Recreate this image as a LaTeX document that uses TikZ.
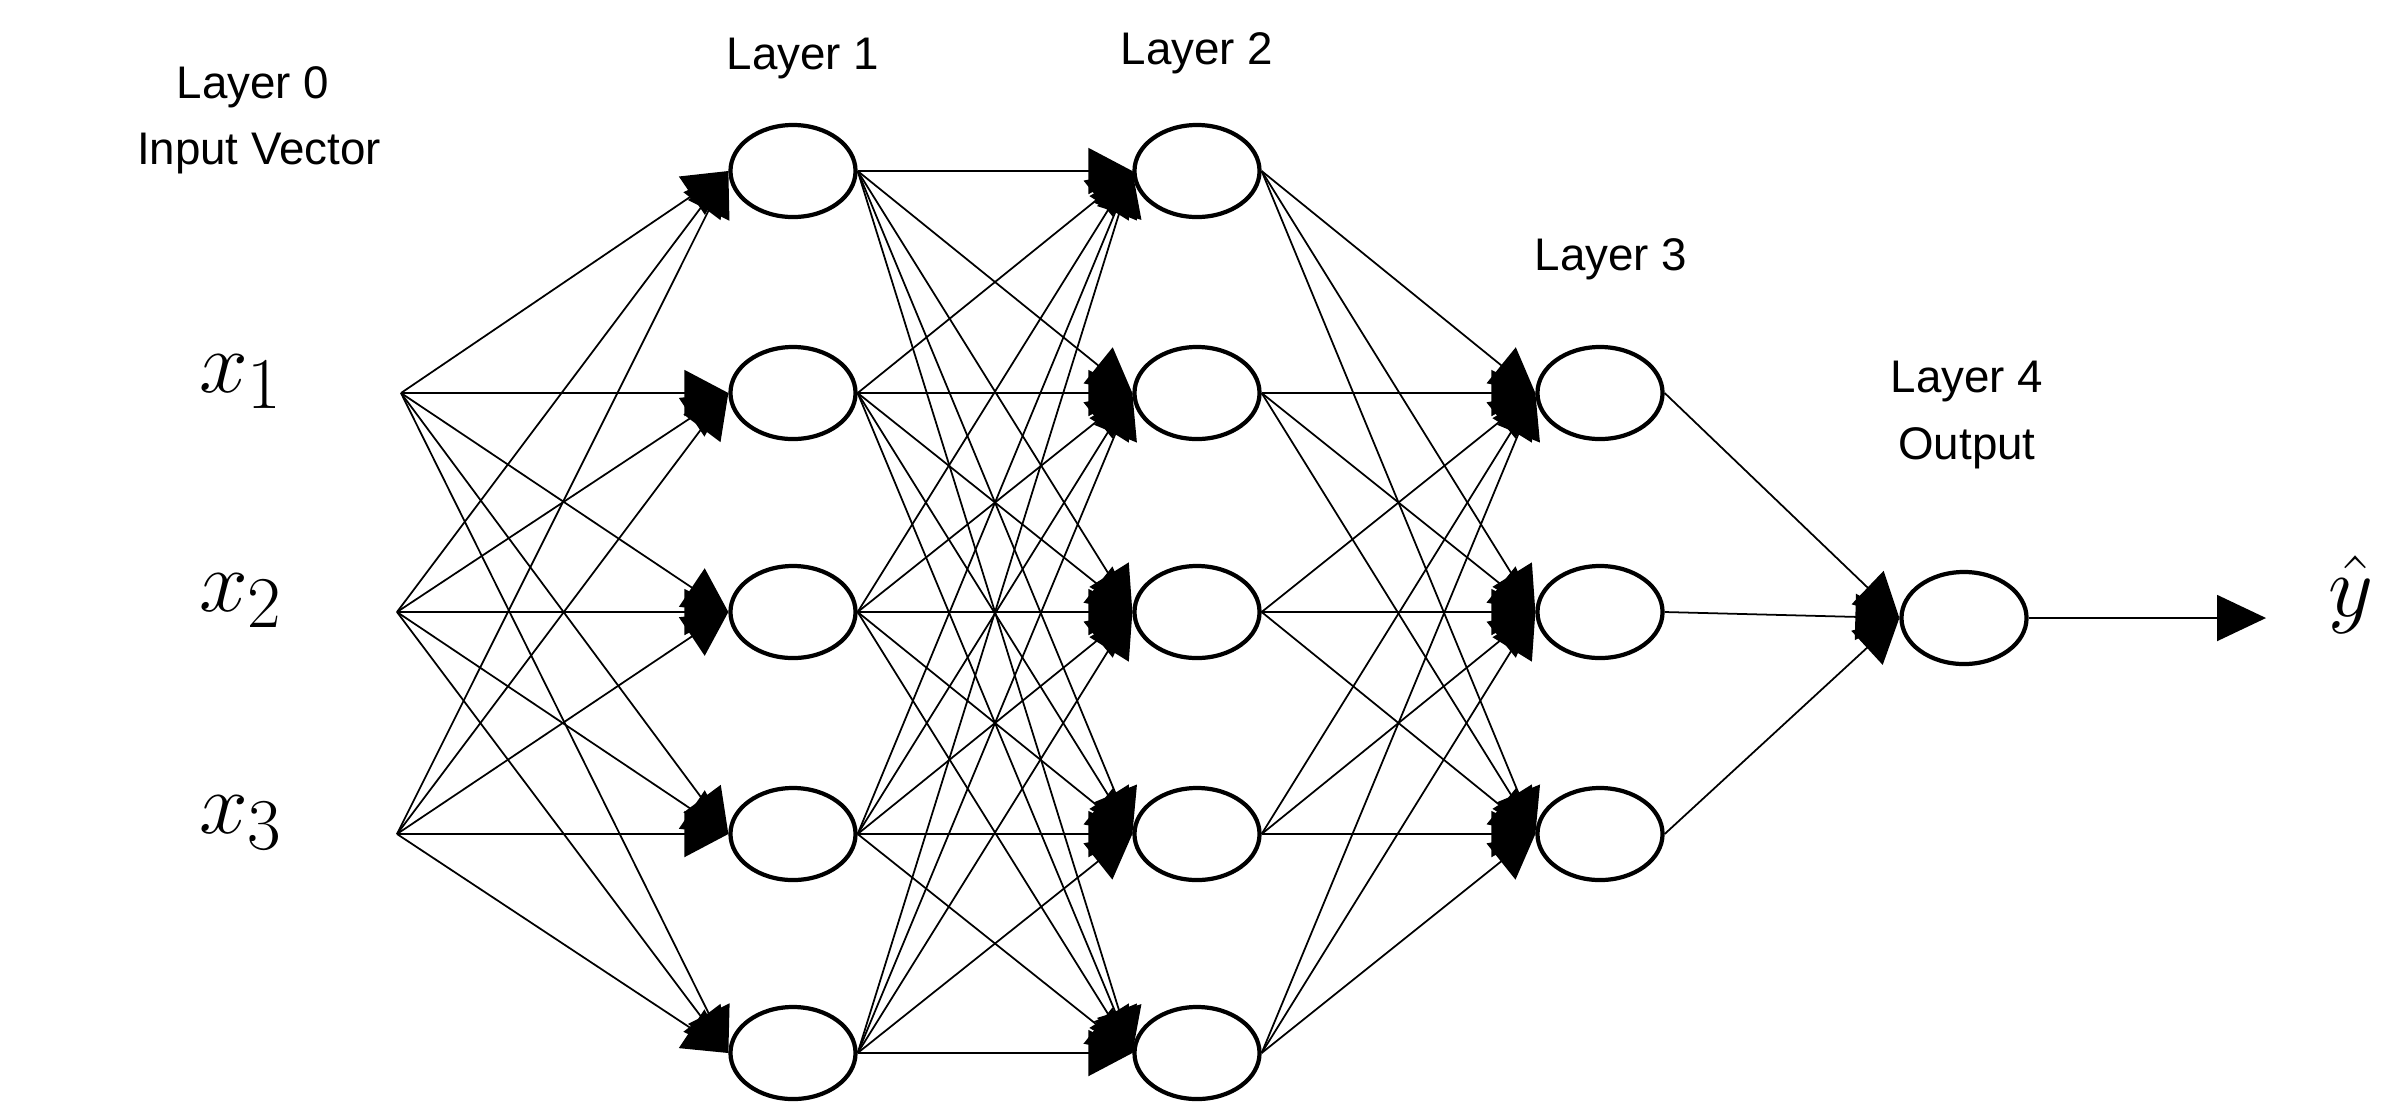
\documentclass[tikz,border=0pt]{standalone}
\usepackage{fontspec}
\setmainfont{Liberation Sans}
\usetikzlibrary{shapes.geometric,arrows.meta}
\begin{document}
\begin{tikzpicture}[x=0.01cm,y=-0.01cm,
  neuron/.style={draw, ellipse, line width=1.2pt, minimum width=12.5mm, minimum height=9.2mm, inner sep=0pt, fill=white},
  conn/.style={line width=0.5pt, -{Triangle[length=4.4mm,width=4.6mm]}},
  outconn/.style={line width=0.5pt, -{Triangle[length=4.9mm,width=4.6mm]}},
  lbl/.style={font=\fontsize{13}{15}\selectfont, inner sep=0pt, anchor=base},
  mlbl/.style={font=\fontsize{28}{32}\selectfont, inner sep=0pt, anchor=base}]
\fill[white] (0,0) rectangle (2400,1114);
% input points
\coordinate (i1) at (401,393);
\coordinate (i2) at (397,612);
\coordinate (i3) at (397,834);
% layer 1
\node[neuron] (a1) at (793,171) {};
\node[neuron] (a2) at (793,393) {};
\node[neuron] (a3) at (793,612) {};
\node[neuron] (a4) at (793,834) {};
\node[neuron] (a5) at (793,1053) {};
% layer 2
\node[neuron] (b1) at (1197,171) {};
\node[neuron] (b2) at (1197,393) {};
\node[neuron] (b3) at (1197,612) {};
\node[neuron] (b4) at (1197,834) {};
\node[neuron] (b5) at (1197,1053) {};
% layer 3
\node[neuron] (c1) at (1600,393) {};
\node[neuron] (c2) at (1600,612) {};
\node[neuron] (c3) at (1600,834) {};
% layer 4
\node[neuron] (d1) at (1964,618) {};
\coordinate (out) at (2266,618);
% connectors
\foreach \i in {1,2,3} \foreach \j in {1,...,5} \draw[conn] (i\i) -- (a\j.west);
\foreach \i in {1,...,5} \foreach \j in {1,...,5} \draw[conn] (a\i.east) -- (b\j.west);
\foreach \i in {1,...,5} \foreach \j in {1,2,3} \draw[conn] (b\i.east) -- (c\j.west);
\foreach \i in {1,2,3} \draw[conn] (c\i.east) -- (d1.west);
\draw[outconn] (d1.east) -- (out);
% labels
\node[mlbl] (x1) at (241,392) {$x_1$};
\node[mlbl] (x2) at (241,611) {$x_2$};
\node[mlbl] (x3) at (241,833) {$x_3$};
\node[mlbl] (yhat) at (2351,616) {$\hat{y}$};
\node[lbl] (t0) at (253,98) {Layer 0};
\node[lbl] (t0b) at (259,164) {Input Vector};
\node[lbl] (t1) at (803,69) {Layer 1};
\node[lbl] (t2) at (1197,64) {Layer 2};
\node[lbl] (t3) at (1611,270) {Layer 3};
\node[lbl] (t4) at (1967,392) {Layer 4};
\node[lbl] (t4b) at (1967,459) {Output};
\end{tikzpicture}
\end{document}
